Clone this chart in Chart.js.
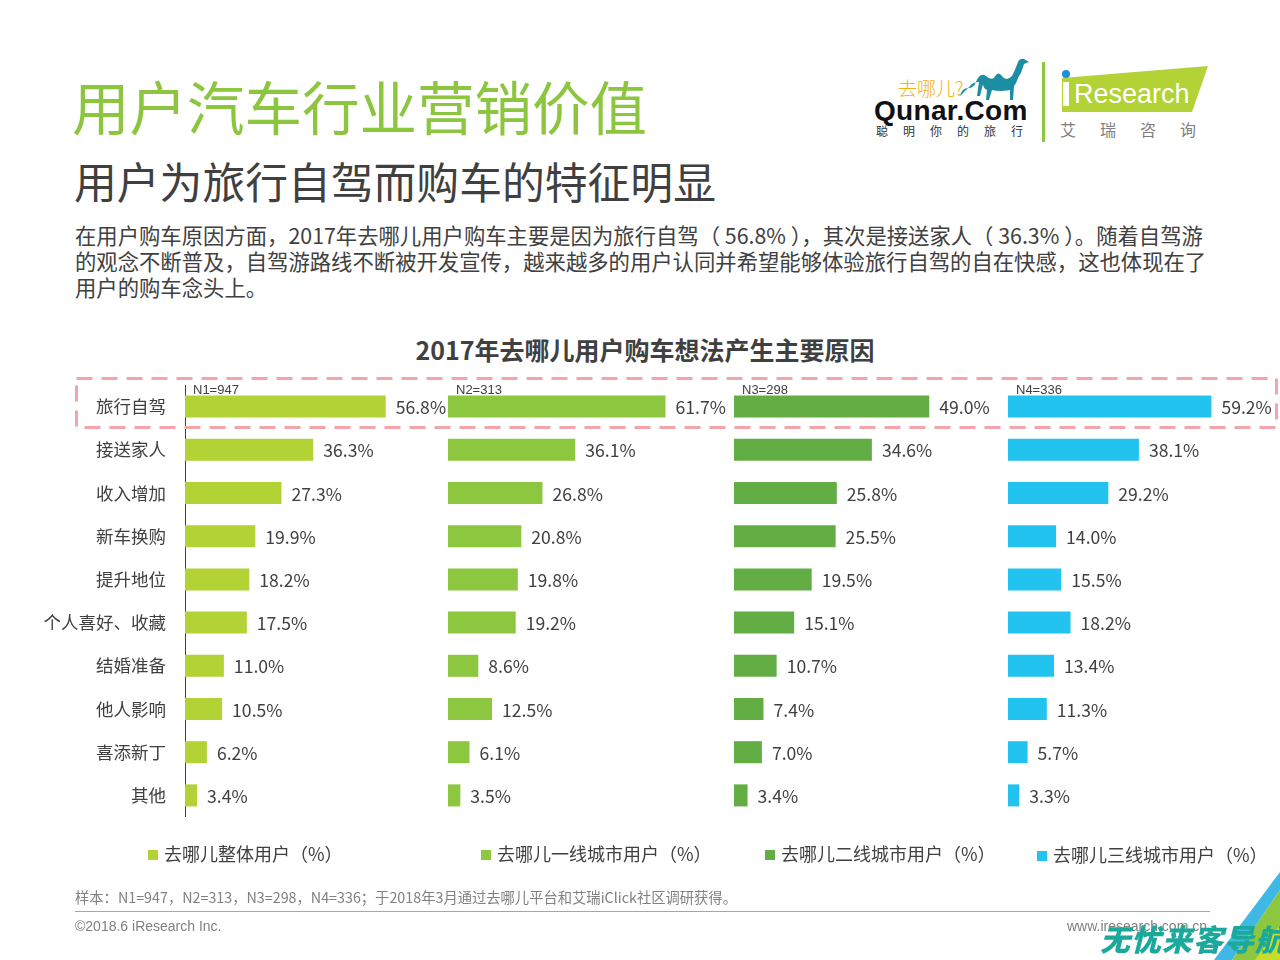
<!DOCTYPE html>
<html>
<head>
<meta charset="utf-8">
<script src="https://cdn.jsdelivr.net/npm/chart.js@4.4.0/dist/chart.umd.min.js"></script>
<style>
  html, body { margin:0; padding:0; background:#fff; }
  body { width:1280px; height:960px; position:relative; overflow:hidden; font-family:"Noto Sans CJK SC","Noto Sans",sans-serif; color:#404040; }
  .abs { position:absolute; white-space:nowrap; }
  canvas { position:absolute; }
  #title { left:72px; top:70px; font-size:57.5px; line-height:70px; color:#8cc63e; }
  #subtitle { left:74px; top:153px; font-size:42.8px; line-height:54px; color:#404040; }
  #para { left:75px; top:222px; font-size:21.35px; line-height:26px; color:#404040; }
  #para .p { letter-spacing:0; }
  #ctitle { left:0; width:1290px; text-align:center; top:332px; font-size:25px; line-height:34px; font-weight:bold; color:#404040; }
  .leg { position:absolute; top:840px; font-size:18px; line-height:26px; color:#404040; white-space:nowrap; }
  .leg i { display:inline-block; width:10px; height:10px; margin-right:6px; vertical-align:1px; }
  #src { left:75px; top:887px; font-size:14.3px; line-height:20px; color:#808080; }
  #copy { left:75px; top:916px; font-size:14px; line-height:20px; color:#808080; font-family:"Liberation Sans",Arial,sans-serif; }
  #www { right:73px; top:916px; font-size:14px; line-height:20px; color:#808080; font-family:"Liberation Sans",Arial,sans-serif; }
  #rule { position:absolute; left:75px; top:911px; width:1135px; height:1px; background:#a6a6a6; }
</style>
</head>
<body>
<div id="title" class="abs">用户汽车行业营销价值</div>
<div id="subtitle" class="abs">用户为旅行自驾而购车的特征明显</div>
<div id="para" class="abs">在用户购车原因方面，2017年去哪儿用户购车主要是因为旅行自驾（ 56.8% ），其次是接送家人（ 36.3% ）。随着自驾游<br>的观念不断普及，自驾游路线不断被开发宣传，越来越多的用户认同并希望能够体验旅行自驾的自在快感，这也体现在了<br>用户的购车念头上。</div>
<div id="ctitle" class="abs">2017年去哪儿用户购车想法产生主要原因</div>

<!-- logos -->
<svg class="abs" style="left:860px;top:55px" width="360" height="100" viewBox="860 55 360 100">
  <text x="898" y="96" font-family="Noto Sans CJK SC" font-size="19" fill="#f2b312" font-weight="300">去哪儿?</text>
  <path d="M960 96 q2 -8 8 -8 q6 0 8 -6 q4 -10 10 -6 q4 4 8 2 q4 -8 8 -2 q4 6 10 0 q4 -8 6 -14 q2 -4 6 -3 l5 3 l-5 2 q-2 8 -6 14 q-2 6 -4 8 l-1 14 l-3 0 l0 -10 q-10 2 -18 0 l-3 10 l-3 0 l1 -10 q-4 -2 -4 -6 l-3 12 l-3 0 l2 -14 q-6 0 -9 4 z" fill="#1b8ea4"/>
  <text x="874" y="120" font-family="Liberation Sans,Arial" font-size="28" font-weight="bold" fill="#111" letter-spacing="0.3">Qunar.Com</text>
  <text x="876" y="136" font-family="Noto Sans CJK SC" font-size="12" fill="#333" letter-spacing="15">聪明你的旅行</text>
  <rect x="1042" y="62" width="3" height="80" fill="#8dc63f"/>
  <polygon points="1062,78 1208,66 1192,112 1062,112" fill="#b2d235"/>
  <circle cx="1066" cy="74" r="4" fill="#1f8ed6"/>
  <rect x="1063" y="82" width="6" height="24" fill="#fff"/>
  <text x="1074" y="103" font-family="Liberation Sans,Arial" font-size="27" fill="#fff">Research</text>
  <text x="1060" y="136" font-family="Noto Sans CJK SC" font-size="16" fill="#808080" letter-spacing="24">艾瑞咨询</text>
</svg>

<canvas id="c1" width="450" height="442" style="left:0px;top:375px"></canvas>
<canvas id="c2" width="282" height="442" style="left:448px;top:375px"></canvas>
<canvas id="c3" width="263" height="442" style="left:734px;top:375px"></canvas>
<canvas id="c4" width="268" height="442" style="left:1008px;top:375px"></canvas>

<svg class="abs" style="left:0;top:0;pointer-events:none" width="1280" height="960">
  <rect x="76.5" y="378.5" width="1200" height="49" fill="none" stroke="#f4a4ab" stroke-width="3" stroke-dasharray="16 9"/>
  <polygon points="1280,872 1280,890 1232,960 1214,960" fill="#3fb8e6"/>
  <polygon points="1280,890 1280,960 1232,960" fill="#8dc63f"/>
  <polygon points="1280,925 1280,960 1255,960" fill="#c8dc2a"/>
</svg>

<div class="leg" style="left:148px"><i style="background:#b2d235"></i>去哪儿整体用户（%）</div>
<div class="leg" style="left:481px"><i style="background:#8dc63f"></i>去哪儿一线城市用户（%）</div>
<div class="leg" style="left:765px"><i style="background:#62ad44"></i>去哪儿二线城市用户（%）</div>
<div class="leg" style="left:1037px;top:841px"><i style="background:#22c4ef"></i>去哪儿三线城市用户（%）</div>

<div id="src" class="abs">样本：N1=947，N2=313，N3=298，N4=336；于2018年3月通过去哪儿平台和艾瑞iClick社区调研获得。</div>
<div id="rule"></div>
<div id="copy" class="abs">©2018.6 iResearch Inc.</div>
<div id="www" class="abs">www.iresearch.com.cn</div>
<div class="abs" style="left:1100px;top:918px;font-size:30px;line-height:40px;font-weight:900;font-style:italic;color:#1aa99b;letter-spacing:1px;">无忧来客导航</div>

<script>
const categories = ["旅行自驾","接送家人","收入增加","新车换购","提升地位","个人喜好、收藏","结婚准备","他人影响","喜添新丁","其他"];
const seriesNames = ["去哪儿整体用户（%）","去哪儿一线城市用户（%）","去哪儿二线城市用户（%）","去哪儿三线城市用户（%）"];
const sampleLabels = ["N1=947","N2=313","N3=298","N4=336"];
const overall = [56.8,36.3,27.3,19.9,18.2,17.5,11.0,10.5,6.2,3.4];
const tier1 = [61.7,36.1,26.8,20.8,19.8,19.2,8.6,12.5,6.1,3.5];
const tier2 = [49.0,34.6,25.8,25.5,19.5,15.1,10.7,7.4,7.0,3.4];
const tier3 = [59.2,38.1,29.2,14.0,15.5,18.2,13.4,11.3,5.7,3.3];
const colors = ["#b2d235","#8dc63f","#62ad44","#22c4ef"];
const axisMax = [75,80,66,78];

const labelPlugin = {
  id:'vlabels',
  afterDatasetsDraw(chart) {
    const ctx = chart.ctx;
    const meta = chart.getDatasetMeta(0);
    const ds = chart.data.datasets[0];
    ctx.save();
    ctx.fillStyle = '#404040';
    ctx.font = '17.6px "Noto Sans CJK SC", sans-serif';
    ctx.textBaseline = 'middle';
    ctx.textAlign = 'left';
    meta.data.forEach((bar, i) => {
      ctx.fillText(ds.data[i].toFixed(1) + '%', bar.x + 10, bar.y + 1);
    });
    ctx.font = '13px "Liberation Sans", Arial, sans-serif';
    ctx.fillText(chart.options.plugins.vlabels.sample, chart.chartArea.left + 8, chart.chartArea.top + 5);
    ctx.restore();
  }
};

function makeChart(id, data, idx, showAxis) {
  new Chart(document.getElementById(id), {
    type:'bar',
    data:{ labels:categories, datasets:[{ label:seriesNames[idx], data:data, backgroundColor:colors[idx], borderWidth:0, barPercentage:1, categoryPercentage:0.51 }]},
    options:{
      indexAxis:'y', responsive:false, animation:false,
      layout:{ padding:{ top:10, left:0, right:0, bottom:0 } },
      plugins:{ legend:{display:false}, tooltip:{enabled:false}, vlabels:{ sample: sampleLabels[idx] } },
      scales:{
        x:{ display:false, min:0, max:axisMax[idx] },
        y:{
          display: showAxis,
          grid:{ display:true, drawOnChartArea:false, drawTicks:false, color:'rgba(0,0,0,0)' },
          border:{ display:true, color:'#404040', width:1 },
          ticks:{ color:'#404040', font:{ family:'"Noto Sans CJK SC", sans-serif', size:17.5 }, padding:19 },
          afterFit(s){ if (showAxis) { s.width = 185; s.paddingTop = 0; s.paddingBottom = 0; } }
        }
      }
    },
    plugins:[labelPlugin]
  });
}
makeChart('c1', overall, 0, true);
makeChart('c2', tier1, 1, false);
makeChart('c3', tier2, 2, false);
makeChart('c4', tier3, 3, false);
</script>
</body>
</html>
